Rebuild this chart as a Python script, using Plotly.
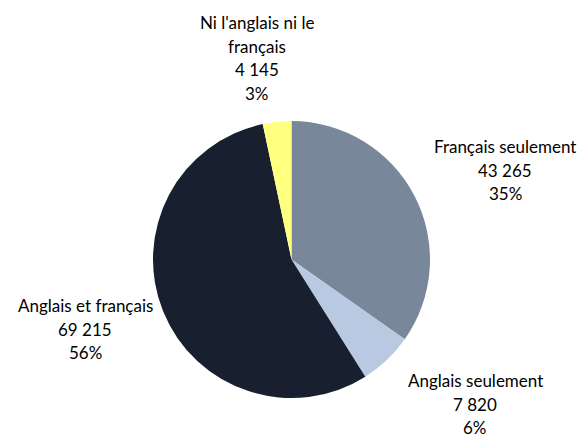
import plotly.graph_objects as go

categories = ["Français seulement", "Anglais seulement", "Anglais et français", "Ni l'anglais ni le français"]
values = [43265, 7820, 69215, 4145]
colors = ["#788799", "#b9c9e1", "#18202f", "#ffff80"]
# label lines for the outside labels (category name may wrap)
label_lines = [["Français seulement"], ["Anglais seulement"], ["Anglais et français"], ["Ni l'anglais ni le", "français"]]
# label centre positions (pixels) and figure size
W, H = 586, 437
label_centers = [(505, 170), (475, 404), (85, 329), (257, 58)]
line_step = 23.5

total = sum(values)

def fmt(v):
    return f"{v:,}".replace(",", " ")

fig = go.Figure(go.Pie(
    labels=categories,
    values=values,
    marker=dict(colors=colors, line=dict(width=0)),
    sort=False,
    direction="clockwise",
    rotation=0,
    textinfo="none",
    hoverinfo="label+value+percent",
    domain=dict(x=[153 / W, 430 / W], y=[1 - 398 / H, 1 - 121 / H]),
    showlegend=False,
))

annotations = []
for lines, v, (cx, cy) in zip(label_lines, values, label_centers):
    all_lines = lines + [fmt(v), f"{round(v / total * 100)}%"]
    n = len(all_lines)
    for i, t in enumerate(all_lines):
        y = cy + (i - (n - 1) / 2) * line_step
        annotations.append(dict(
            text=t, x=cx / W, y=1 - y / H, xref="paper", yref="paper",
            xanchor="center", yanchor="middle", showarrow=False,
            font=dict(family="Lato, Open Sans, sans-serif", size=17, color="#000000"),
        ))

fig.update_layout(
    width=W, height=H,
    margin=dict(l=0, r=0, t=0, b=0),
    paper_bgcolor="white", plot_bgcolor="white",
    annotations=annotations,
)

fig.write_html("out.html", config={"displayModeBar": False},
               post_script="document.body.style.margin='0';document.body.style.overflow='hidden';")
